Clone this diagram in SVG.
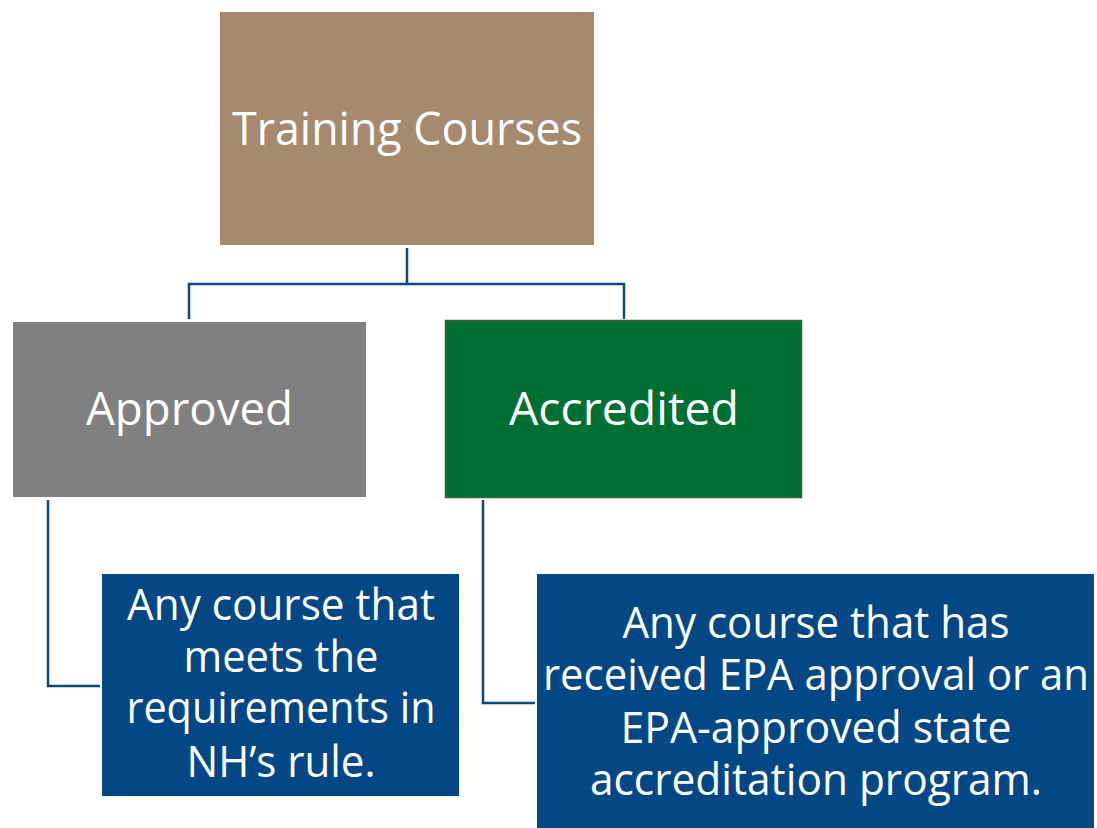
<svg xmlns="http://www.w3.org/2000/svg" width="1097" height="828" viewBox="0 0 1097 828">
<style>
.t{font-family:"Open Sans","Lato","Liberation Sans",sans-serif;fill:#ffffff;text-anchor:middle}
.big{font-size:46px}
.mid{font-size:44px}
.conn{fill:none;stroke:#0B4A7E;stroke-width:2.5}
</style>
<rect width="1097" height="828" fill="#ffffff"/>
<g id="connectors">
<path class="conn" d="M407 248 V284 M189 319 V284 H624 V319"/>
<path class="conn" d="M48 500 V686 H100"/>
<path class="conn" d="M483 500 V703 H535"/>
</g>
<g id="training-courses">
<rect x="220" y="12" width="374" height="233" fill="#A58A6D"/>
<text class="t big" x="407" y="145" textLength="350" lengthAdjust="spacingAndGlyphs">Training Courses</text>
</g>
<g id="approved">
<rect x="13" y="322" width="353" height="175" fill="#808080"/>
<text class="t big" x="189.5" y="425" textLength="207" lengthAdjust="spacingAndGlyphs">Approved</text>
</g>
<g id="accredited">
<rect x="445.5" y="320.5" width="356" height="177" fill="#006F34" stroke="#35603B" stroke-width="1.5"/>
<text class="t big" x="624" y="425" textLength="230" lengthAdjust="spacingAndGlyphs">Accredited</text>
</g>
<g id="approved-desc">
<rect x="102" y="574" width="357" height="222" fill="#034884"/>
<text class="t mid" x="281" y="620" textLength="308" lengthAdjust="spacingAndGlyphs">Any course that</text>
<text class="t mid" x="281" y="672" textLength="195" lengthAdjust="spacingAndGlyphs">meets the</text>
<text class="t mid" x="281" y="723" textLength="309" lengthAdjust="spacingAndGlyphs">requirements in</text>
<text class="t mid" x="281" y="777" textLength="189" lengthAdjust="spacingAndGlyphs">NH’s rule.</text>
</g>
<g id="accredited-desc">
<rect x="537" y="574" width="557" height="256" fill="#034884"/>
<text class="t mid" x="816" y="638" textLength="387" lengthAdjust="spacingAndGlyphs">Any course that has</text>
<text class="t mid" x="816" y="690" textLength="546" lengthAdjust="spacingAndGlyphs">received EPA approval or an</text>
<text class="t mid" x="816" y="743" textLength="391" lengthAdjust="spacingAndGlyphs">EPA-approved state</text>
<text class="t mid" x="816" y="795" textLength="452" lengthAdjust="spacingAndGlyphs">accreditation program.</text>
</g>
</svg>
